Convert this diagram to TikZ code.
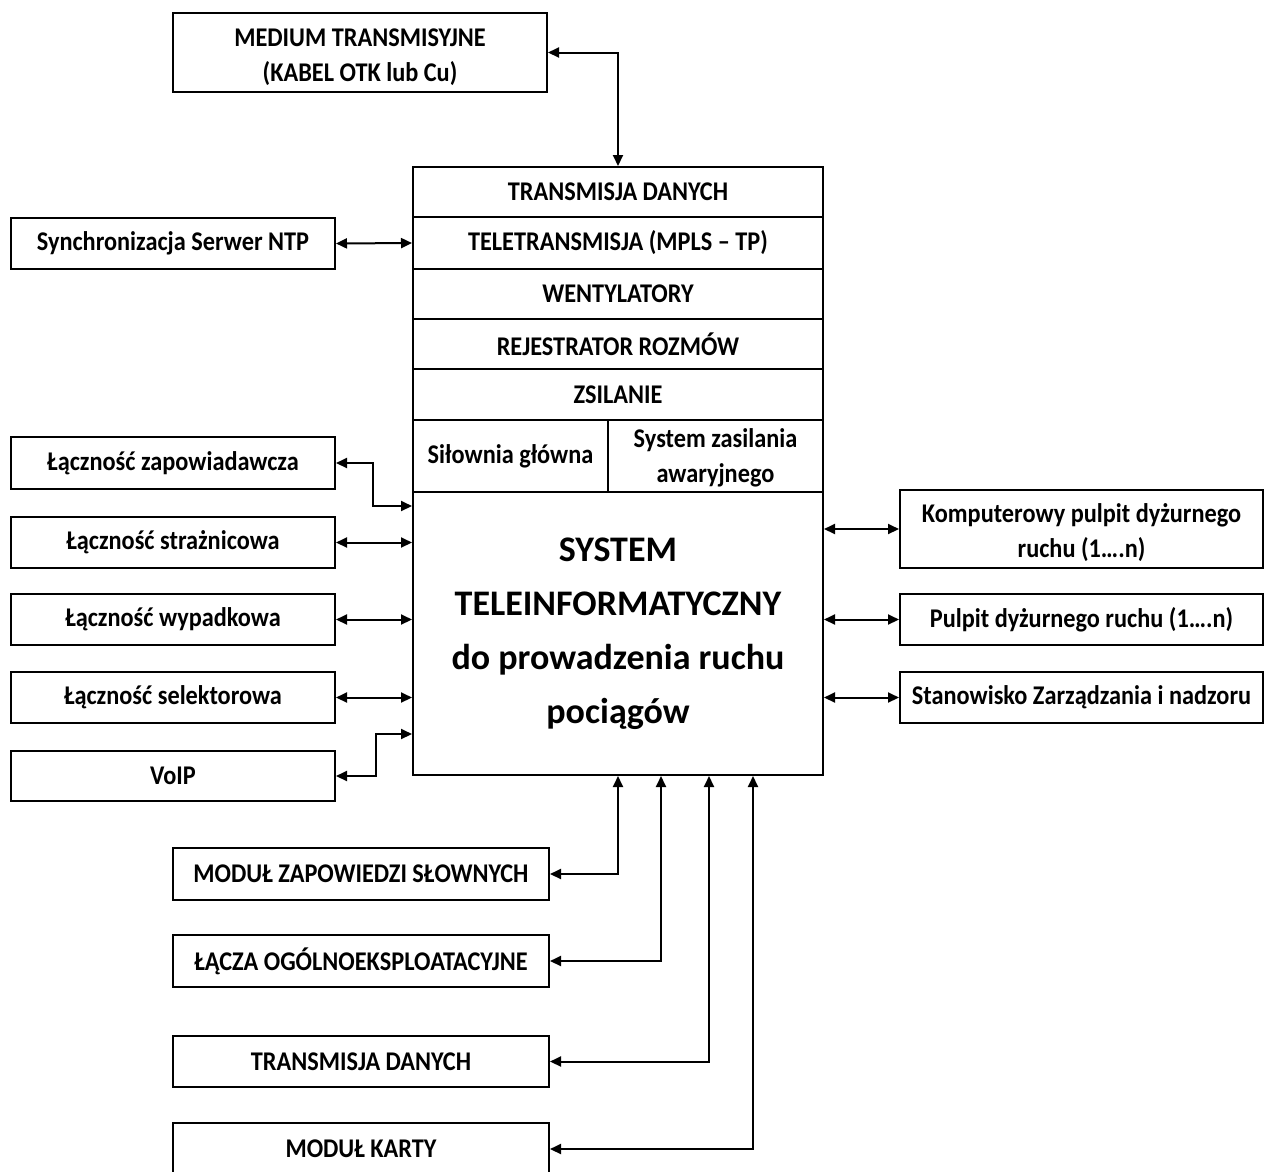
\documentclass[tikz,border=0pt]{standalone}
\usepackage{fontspec}
\setmainfont{Carlito}
\newfontfamily\narrowfont{Carlito}[FakeStretch=0.9,Ligatures=TeX]
\usetikzlibrary{arrows.meta,calc}
% two centred lines, set a little lower than the box centre
\newcommand{\twolines}[3][4pt]{\raisebox{-#1}[\height][\depth]{\begin{tabular}{@{}c@{}}#2\\#3\end{tabular}}}
\begin{document}
\begin{tikzpicture}[x=1pt,y=-1pt,
  box/.style={draw=black,line width=2pt,fill=white,align=center,inner sep=2pt,
    font=\narrowfont\fontsize{27}{35}\selectfont\bfseries},
  row/.style={box,minimum width=410pt,minimum height=51pt},
  arr/.style={line width=2pt,{Triangle[length=11pt,width=10pt]}-{Triangle[length=11pt,width=10pt]}}]
\useasboundingbox (0,0) rectangle (1264,1171);
\fill[white] (0,0) rectangle (1264,1171);

% top medium box
\node[box,minimum width=374pt,minimum height=79pt] (med) at (360,52.5) {\twolines{MEDIUM TRANSMISYJNE}{(KABEL OTK lub Cu)}};

% central stack
\node[row,minimum height=50pt] (r1) at (618,192) {TRANSMISJA DANYCH};
\node[row,minimum height=52pt] (r2) at (618,243) {TELETRANSMISJA (MPLS – TP)};
\node[row,minimum height=50pt] (r3) at (618,294) {WENTYLATORY};
\node[row,minimum height=50pt] (r4) at (618,344) {REJESTRATOR ROZMÓW};
\node[row,minimum height=51pt] (r5) at (618,394.5) {ZSILANIE};
\node[box,minimum width=195pt,minimum height=72pt] (r6a) at (510.5,456) {Siłownia główna};
\node[box,inner ysep=0pt,minimum width=215pt,minimum height=72pt] (r6b) at (715.5,456) {\twolines[2pt]{System zasilania}{awaryjnego}};
\node[box,minimum width=410pt,minimum height=283pt,
  font=\rmfamily\fontsize{36}{54}\selectfont\bfseries] (main) at (618,633.5)
  {SYSTEM\\TELEINFORMATYCZNY\\do prowadzenia ruchu\\pociągów};

% left side
\node[box,minimum width=324pt,minimum height=51pt] (sync) at (173,243.5) {Synchronizacja Serwer NTP};
\node[box,minimum width=324pt,minimum height=52pt] (zap) at (173,463) {Łączność zapowiadawcza};
\node[box,minimum width=324pt,minimum height=51pt] (str) at (173,542.5) {Łączność strażnicowa};
\node[box,minimum width=324pt,minimum height=51pt] (wyp) at (173,619.5) {Łączność wypadkowa};
\node[box,minimum width=324pt,minimum height=51pt] (sel) at (173,697.5) {Łączność selektorowa};
\node[box,minimum width=324pt,minimum height=50pt] (voip) at (173,776) {VoIP};

% right side
\node[box,minimum width=363pt,minimum height=78pt] (komp) at (1081.5,529) {\twolines{Komputerowy pulpit dyżurnego}{ruchu (1….n)}};
\node[box,minimum width=363pt,minimum height=51pt] (pul) at (1081.5,619.5) {Pulpit dyżurnego ruchu (1….n)};
\node[box,minimum width=363pt,minimum height=51pt] (stan) at (1081.5,697.5) {Stanowisko Zarządzania i nadzoru};

% bottom
\node[box,minimum width=376pt,minimum height=52pt] (mzs) at (361,874) {MODUŁ ZAPOWIEDZI SŁOWNYCH};
\node[box,minimum width=376pt,minimum height=52pt] (lacz) at (361,961) {ŁĄCZA OGÓLNOEKSPLOATACYJNE};
\node[box,minimum width=376pt,minimum height=51pt] (tdan) at (361,1061.5) {TRANSMISJA DANYCH};
\node[box,minimum width=376pt,minimum height=52pt] (karta) at (361,1149) {MODUŁ KARTY};

% connectors
\draw[arr] (med.east) -| (r1.north);
\draw[arr] (sync.east) -- (r2.west);
\draw[arr] (zap.east) -- ++(37,0) |- ([yshift=-15pt]main.north west);
\draw[arr] (str.east) -- (str.east -| main.west);
\draw[arr] (wyp.east) -- (wyp.east -| main.west);
\draw[arr] (sel.east) -- (sel.east -| main.west);
\draw[arr] (voip.east) -- ++(40,0) |- ([yshift=42pt]main.south west);
\draw[arr] (main.east |- komp.west) -- (komp.west);
\draw[arr] (main.east |- pul.west) -- (pul.west);
\draw[arr] (main.east |- stan.west) -- (stan.west);
\draw[arr] (mzs.east) -| (main.south);
\draw[arr] (lacz.east) -| ([xshift=43pt]main.south);
\draw[arr] (tdan.east) -| ([xshift=91pt]main.south);
\draw[arr] (karta.east) -| ([xshift=135pt]main.south);
\end{tikzpicture}
\end{document}
